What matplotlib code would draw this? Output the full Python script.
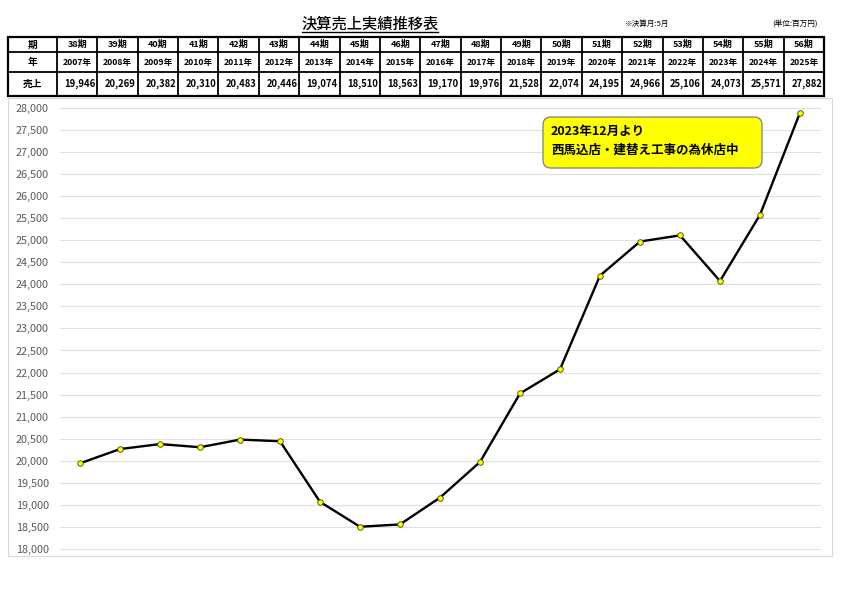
import matplotlib
matplotlib.use("Agg")
import matplotlib.pyplot as plt
from matplotlib.patches import Rectangle, FancyBboxPatch
from matplotlib.ticker import FuncFormatter

plt.rcParams["font.family"] = ["Noto Sans CJK JP", "DejaVu Sans"]

periods = ["38期", "39期", "40期", "41期", "42期", "43期", "44期", "45期", "46期", "47期",
           "48期", "49期", "50期", "51期", "52期", "53期", "54期", "55期", "56期"]
years = ["2007年", "2008年", "2009年", "2010年", "2011年", "2012年", "2013年", "2014年", "2015年",
         "2016年", "2017年", "2018年", "2019年", "2020年", "2021年", "2022年", "2023年", "2024年", "2025年"]
sales = [19946, 20269, 20382, 20310, 20483, 20446, 19074, 18510, 18563, 19170,
         19976, 21528, 22074, 24195, 24966, 25106, 24073, 25571, 27882]
row_heads = ["期", "年", "売上"]
y_ticks = list(range(18000, 28001, 500))

W, H = 842, 595
fig = plt.figure(figsize=(W / 100, H / 100), dpi=100)

# pixel-coordinate overlay for the table, titles and chart frame
bg = fig.add_axes([0, 0, 1, 1], zorder=0)
bg.set_xlim(0, W); bg.set_ylim(H, 0); bg.axis("off")

bg.text(370, 24, "決算売上実績推移表", ha="center", va="center", fontsize=11, fontweight="medium")
bg.plot([302, 438], [32, 32], color="black", lw=1.0)
bg.text(647, 24, "※決算月:5月", ha="center", va="center", fontsize=5.5)
bg.text(795, 24, "(単位:百万円)", ha="center", va="center", fontsize=5.5)

# table
x0, x1, xr = 8, 57, 824
rows = [37, 52, 72, 96]
cw = (xr - x1) / len(periods)
cols = [x1 + i * cw for i in range(len(periods) + 1)]
for y in rows[1:-1]:
    bg.plot([x0, xr], [y, y], color="black", lw=1.3)
for x in cols[:-1]:
    bg.plot([x, x], [rows[0], rows[-1]], color="black", lw=1.3)
bg.add_patch(Rectangle((x0, rows[0]), xr - x0, rows[-1] - rows[0], fill=False, ec="black", lw=1.6))
centers = [(rows[i] + rows[i + 1]) / 2 for i in range(3)]
for head, yc in zip(row_heads, centers):
    bg.text((x0 + x1) / 2, yc, head, ha="center", va="center", fontsize=7, fontweight="bold")
for i in range(len(periods)):
    xc = cols[i] + cw / 2
    bg.text(xc, centers[0], periods[i], ha="center", va="center", fontsize=6.5, fontweight="bold")
    bg.text(xc, centers[1], years[i], ha="center", va="center", fontsize=6.2, fontweight="bold")
    bg.text(cols[i + 1] - 2, centers[2], f"{sales[i]:,}", ha="right", va="center",
            fontsize=6.8, fontweight="bold")

# chart frame
bg.add_patch(Rectangle((8, 98), 824, 458, fill=False, ec="#d9d9d9", lw=0.8))

# main line chart
ax = fig.add_axes([60 / W, 1 - 549.3 / H, 760 / W, (549.3 - 107.5) / H], zorder=1)
ax.patch.set_alpha(0)
xs = list(range(len(sales)))
ax.plot(xs, sales, color="black", lw=1.7, marker="o", ms=4, mfc="#ffff00", mec="#404000", mew=0.6,
        zorder=3)
ax.set_xlim(-0.5, len(sales) - 0.5)
ax.set_ylim(18000, 28000)
ax.set_yticks(y_ticks)
ax.yaxis.set_major_formatter(FuncFormatter(lambda v, p: f"{int(v):,}"))
ax.set_xticks([])
ax.tick_params(axis="y", length=0, labelsize=7.8, labelcolor="#595959", pad=8)
ax.grid(axis="y", color="#e0e0e0", lw=0.8)
for gl in ax.get_ygridlines():
    gl.set_clip_on(False)
for s in ax.spines.values():
    s.set_visible(False)

# note box, on its own overlay above the line
top = fig.add_axes([0, 0, 1, 1], zorder=2)
top.set_xlim(0, W); top.set_ylim(H, 0); top.axis("off")
top.add_patch(FancyBboxPatch((543, 117), 219, 51, boxstyle="round,pad=0,rounding_size=8",
                             fc="#ffff00", ec="#7f7f7f", lw=0.9))
top.text(551, 131, "2023年12月より", ha="left", va="center", fontsize=9, fontweight="bold")
top.text(551, 150, "西馬込店・建替え工事の為休店中", ha="left", va="center", fontsize=9,
         fontweight="bold")

fig.savefig("out.png", dpi=100)
